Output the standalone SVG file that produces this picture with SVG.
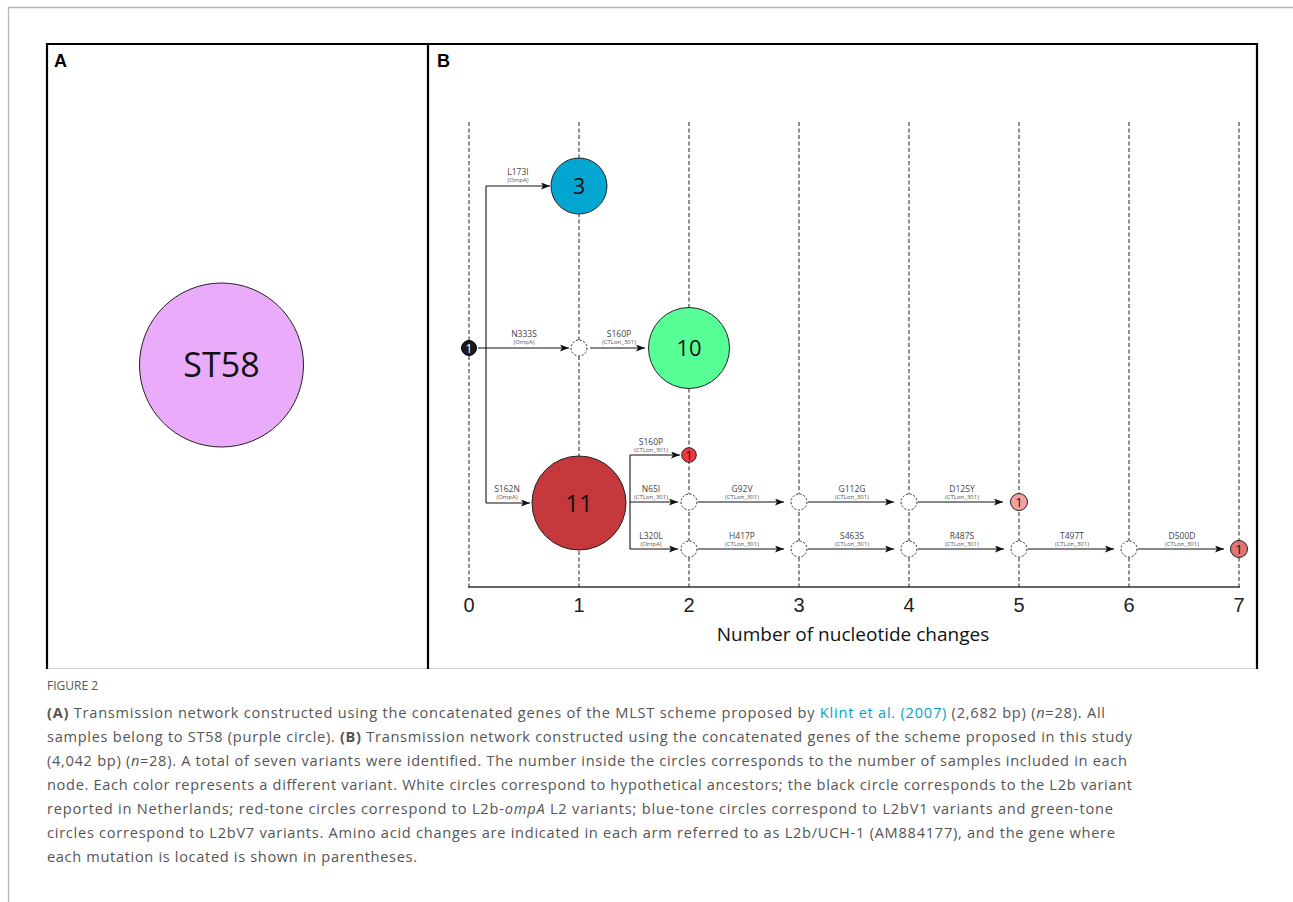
<svg xmlns="http://www.w3.org/2000/svg" width="1293" height="902" viewBox="0 0 1293 902">
<style>
.frame{stroke:#000;stroke-width:2.2;fill:none}
.grid{stroke:#555;stroke-width:1.3;stroke-dasharray:4 2.5;fill:none}
.conn{stroke:#111;stroke-width:1.1;fill:none}
.node{stroke:#222;stroke-width:1}
.hyp{fill:#fff;stroke:#333;stroke-width:1;stroke-dasharray:2.2 1.6}
.mut{font-family:"Open Sans","DejaVu Sans",sans-serif;font-size:8.5px;fill:#444;text-anchor:middle}
.gene{font-family:"Open Sans","DejaVu Sans",sans-serif;font-size:6px;fill:#555;text-anchor:middle}
.num{font-family:"Open Sans","DejaVu Sans",sans-serif;fill:#111;text-anchor:middle}
.axis{font-family:"Liberation Sans",Arial,sans-serif;font-size:20px;fill:#222;text-anchor:middle}
.cap{font-family:"Open Sans","DejaVu Sans",sans-serif;font-size:14.6px;fill:#555}
.panel{font-family:"Liberation Sans",Arial,sans-serif;font-size:18px;font-weight:bold;fill:#000}
</style>
<defs>
<marker id="arr" markerUnits="userSpaceOnUse" markerWidth="10" markerHeight="8" refX="9" refY="3.5" orient="auto">
<path d="M0,0 L9,3.5 L0,7 L2,3.5 z" fill="#111"/>
</marker>
</defs>
<rect x="0" y="0" width="1293" height="902" fill="#fff"/>
<!-- outer page frame -->
<path d="M8.5,902 V7.5 H1293" stroke="#b5b5b5" stroke-width="1.3" fill="none"/>
<!-- panel frames -->
<line x1="47" y1="668.5" x2="1257" y2="668.5" stroke="#cfcfcf" stroke-width="1.2"/>
<path class="frame" d="M47,669 V44 H1257 V669"/>
<line class="frame" x1="428" y1="44" x2="428" y2="669"/>
<text class="panel" x="54" y="67">A</text>
<text class="panel" x="437" y="67">B</text>

<!-- Panel A -->
<g id="node-ST58">
<circle class="node" cx="221.5" cy="365" r="82" fill="#EBABFB"/>
<text x="221.5" y="377" font-family="'Open Sans','DejaVu Sans',sans-serif" font-size="34" text-anchor="middle" fill="#111">ST58</text>
</g>

<!-- Panel B grid -->
<g id="grid">
<line class="grid" x1="469" y1="122" x2="469" y2="587"/>
<line class="grid" x1="579" y1="122" x2="579" y2="587"/>
<line class="grid" x1="689" y1="122" x2="689" y2="587"/>
<line class="grid" x1="799" y1="122" x2="799" y2="587"/>
<line class="grid" x1="909" y1="122" x2="909" y2="587"/>
<line class="grid" x1="1019" y1="122" x2="1019" y2="587"/>
<line class="grid" x1="1129" y1="122" x2="1129" y2="587"/>
<line class="grid" x1="1239" y1="122" x2="1239" y2="587"/>
<line x1="468" y1="587" x2="1240" y2="587" stroke="#333" stroke-width="1.5"/>
<text class="axis" x="469" y="612">0</text>
<text class="axis" x="579" y="612">1</text>
<text class="axis" x="689" y="612">2</text>
<text class="axis" x="799" y="612">3</text>
<text class="axis" x="909" y="612">4</text>
<text class="axis" x="1019" y="612">5</text>
<text class="axis" x="1129" y="612">6</text>
<text class="axis" x="1239" y="612">7</text>
<text x="853" y="641" font-family="'Open Sans','DejaVu Sans',sans-serif" font-size="19" text-anchor="middle" fill="#111">Number of nucleotide changes</text>
</g>

<!-- connectors -->
<g id="connectors">
<line class="conn" x1="486" y1="186" x2="486" y2="503"/>
<line class="conn" x1="486" y1="186" x2="550" y2="186" marker-end="url(#arr)"/>
<line class="conn" x1="478" y1="348" x2="569" y2="348" marker-end="url(#arr)"/>
<line class="conn" x1="590" y1="348" x2="645" y2="348" marker-end="url(#arr)"/>
<line class="conn" x1="486" y1="503" x2="530" y2="503" marker-end="url(#arr)"/>
<line class="conn" x1="630" y1="455" x2="630" y2="549"/>
<line class="conn" x1="630" y1="455" x2="680" y2="455" marker-end="url(#arr)"/>
<line class="conn" x1="630" y1="502" x2="678" y2="502" marker-end="url(#arr)"/>
<line class="conn" x1="630" y1="549" x2="678" y2="549" marker-end="url(#arr)"/>
<line class="conn" x1="698" y1="502" x2="784" y2="502" marker-end="url(#arr)"/>
<line class="conn" x1="808" y1="502" x2="894" y2="502" marker-end="url(#arr)"/>
<line class="conn" x1="918" y1="502" x2="1003" y2="502" marker-end="url(#arr)"/>
<line class="conn" x1="698" y1="549" x2="784" y2="549" marker-end="url(#arr)"/>
<line class="conn" x1="808" y1="549" x2="894" y2="549" marker-end="url(#arr)"/>
<line class="conn" x1="918" y1="549" x2="1004" y2="549" marker-end="url(#arr)"/>
<line class="conn" x1="1028" y1="549" x2="1114" y2="549" marker-end="url(#arr)"/>
<line class="conn" x1="1138" y1="549" x2="1224" y2="549" marker-end="url(#arr)"/>
</g>

<!-- connector labels -->
<g id="labels">
<text class="mut" x="518" y="175">L173I</text><text class="gene" x="518" y="182">(OmpA)</text>
<text class="mut" x="524" y="337">N333S</text><text class="gene" x="524" y="344">(OmpA)</text>
<text class="mut" x="619" y="337">S160P</text><text class="gene" x="619" y="344">(CTLon_301)</text>
<text class="mut" x="507" y="492" font-size="10">S162N</text><text class="gene" x="507" y="499">(OmpA)</text>
<text class="mut" x="651" y="445">S160P</text><text class="gene" x="651" y="452">(CTLon_301)</text>
<text class="mut" x="651" y="492">N65I</text><text class="gene" x="651" y="499">(CTLon_301)</text>
<text class="mut" x="651" y="539">L320L</text><text class="gene" x="651" y="546">(OmpA)</text>
<text class="mut" x="742" y="492">G92V</text><text class="gene" x="742" y="499">(CTLon_301)</text>
<text class="mut" x="852" y="492">G112G</text><text class="gene" x="852" y="499">(CTLon_301)</text>
<text class="mut" x="962" y="492">D125Y</text><text class="gene" x="962" y="499">(CTLon_301)</text>
<text class="mut" x="742" y="539">H417P</text><text class="gene" x="742" y="546">(CTLon_301)</text>
<text class="mut" x="852" y="539">S463S</text><text class="gene" x="852" y="546">(CTLon_301)</text>
<text class="mut" x="962" y="539">R487S</text><text class="gene" x="962" y="546">(CTLon_301)</text>
<text class="mut" x="1072" y="539">T497T</text><text class="gene" x="1072" y="546">(CTLon_301)</text>
<text class="mut" x="1182" y="539">D500D</text><text class="gene" x="1182" y="546">(CTLon_301)</text>
</g>

<!-- nodes -->
<g id="node-root"><circle cx="469" cy="348" r="7.5" fill="#1a1a1a" stroke="#000"/><text class="num" x="469" y="352.5" font-size="12" style="fill:#fff">1</text></g>
<g id="node-blue3"><circle class="node" cx="579" cy="186" r="28" fill="#03A6D1"/><text class="num" x="579" y="194" font-size="22">3</text></g>
<g id="node-hyp1"><circle class="hyp" cx="579" cy="348" r="8"/></g>
<g id="node-green10"><circle class="node" cx="689" cy="348" r="40.5" fill="#57FE95"/><text class="num" x="689" y="356" font-size="22">10</text></g>
<g id="node-red11"><circle class="node" cx="579" cy="503" r="47" fill="#C5383B"/><text class="num" x="579" y="512" font-size="24">11</text></g>
<g id="node-red1a"><circle class="node" cx="689" cy="455" r="7.3" fill="#F0373D"/><text class="num" x="689" y="459.5" font-size="13">1</text></g>
<g id="node-hyp2a"><circle class="hyp" cx="689" cy="502" r="8"/></g>
<g id="node-hyp2b"><circle class="hyp" cx="689" cy="549" r="8"/></g>
<g id="node-hyp3a"><circle class="hyp" cx="799" cy="502" r="8"/></g>
<g id="node-hyp4a"><circle class="hyp" cx="909" cy="502" r="8"/></g>
<g id="node-red1b"><circle class="node" cx="1019" cy="502" r="8.5" fill="#F4A0A0"/><text class="num" x="1019" y="507" font-size="13">1</text></g>
<g id="node-hyp3b"><circle class="hyp" cx="799" cy="549" r="8"/></g>
<g id="node-hyp4b"><circle class="hyp" cx="909" cy="549" r="8"/></g>
<g id="node-hyp5b"><circle class="hyp" cx="1019" cy="549" r="8"/></g>
<g id="node-hyp6b"><circle class="hyp" cx="1129" cy="549" r="8"/></g>
<g id="node-red1c"><circle class="node" cx="1239" cy="549" r="8.5" fill="#E07373"/><text class="num" x="1239" y="554" font-size="13">1</text></g>

<!-- caption -->
<g id="caption">
<text x="47" y="690" font-family="'Open Sans','DejaVu Sans',sans-serif" font-size="12" fill="#555">FIGURE 2</text>
<text class="cap" x="47" y="718" textLength="1058" lengthAdjust="spacing"><tspan font-weight="bold">(A)</tspan> Transmission network constructed using the concatenated genes of the MLST scheme proposed by <tspan fill="#00A5C5">Klint et al. (2007)</tspan> (2,682 bp) (<tspan font-style="italic">n</tspan>=28). All</text>
<text class="cap" x="47" y="742" textLength="1085" lengthAdjust="spacing">samples belong to ST58 (purple circle). <tspan font-weight="bold">(B)</tspan> Transmission network constructed using the concatenated genes of the scheme proposed in this study</text>
<text class="cap" x="47" y="766" textLength="1080" lengthAdjust="spacing">(4,042 bp) (<tspan font-style="italic">n</tspan>=28). A total of seven variants were identified. The number inside the circles corresponds to the number of samples included in each</text>
<text class="cap" x="47" y="790" textLength="1085" lengthAdjust="spacing">node. Each color represents a different variant. White circles correspond to hypothetical ancestors; the black circle corresponds to the L2b variant</text>
<text class="cap" x="47" y="814" textLength="1066" lengthAdjust="spacing">reported in Netherlands; red-tone circles correspond to L2b-<tspan font-style="italic">ompA</tspan> L2 variants; blue-tone circles correspond to L2bV1 variants and green-tone</text>
<text class="cap" x="47" y="838" textLength="1068" lengthAdjust="spacing">circles correspond to L2bV7 variants. Amino acid changes are indicated in each arm referred to as L2b/UCH-1 (AM884177), and the gene where</text>
<text class="cap" x="47" y="862" textLength="370" lengthAdjust="spacing">each mutation is located is shown in parentheses.</text>
</g>
</svg>
